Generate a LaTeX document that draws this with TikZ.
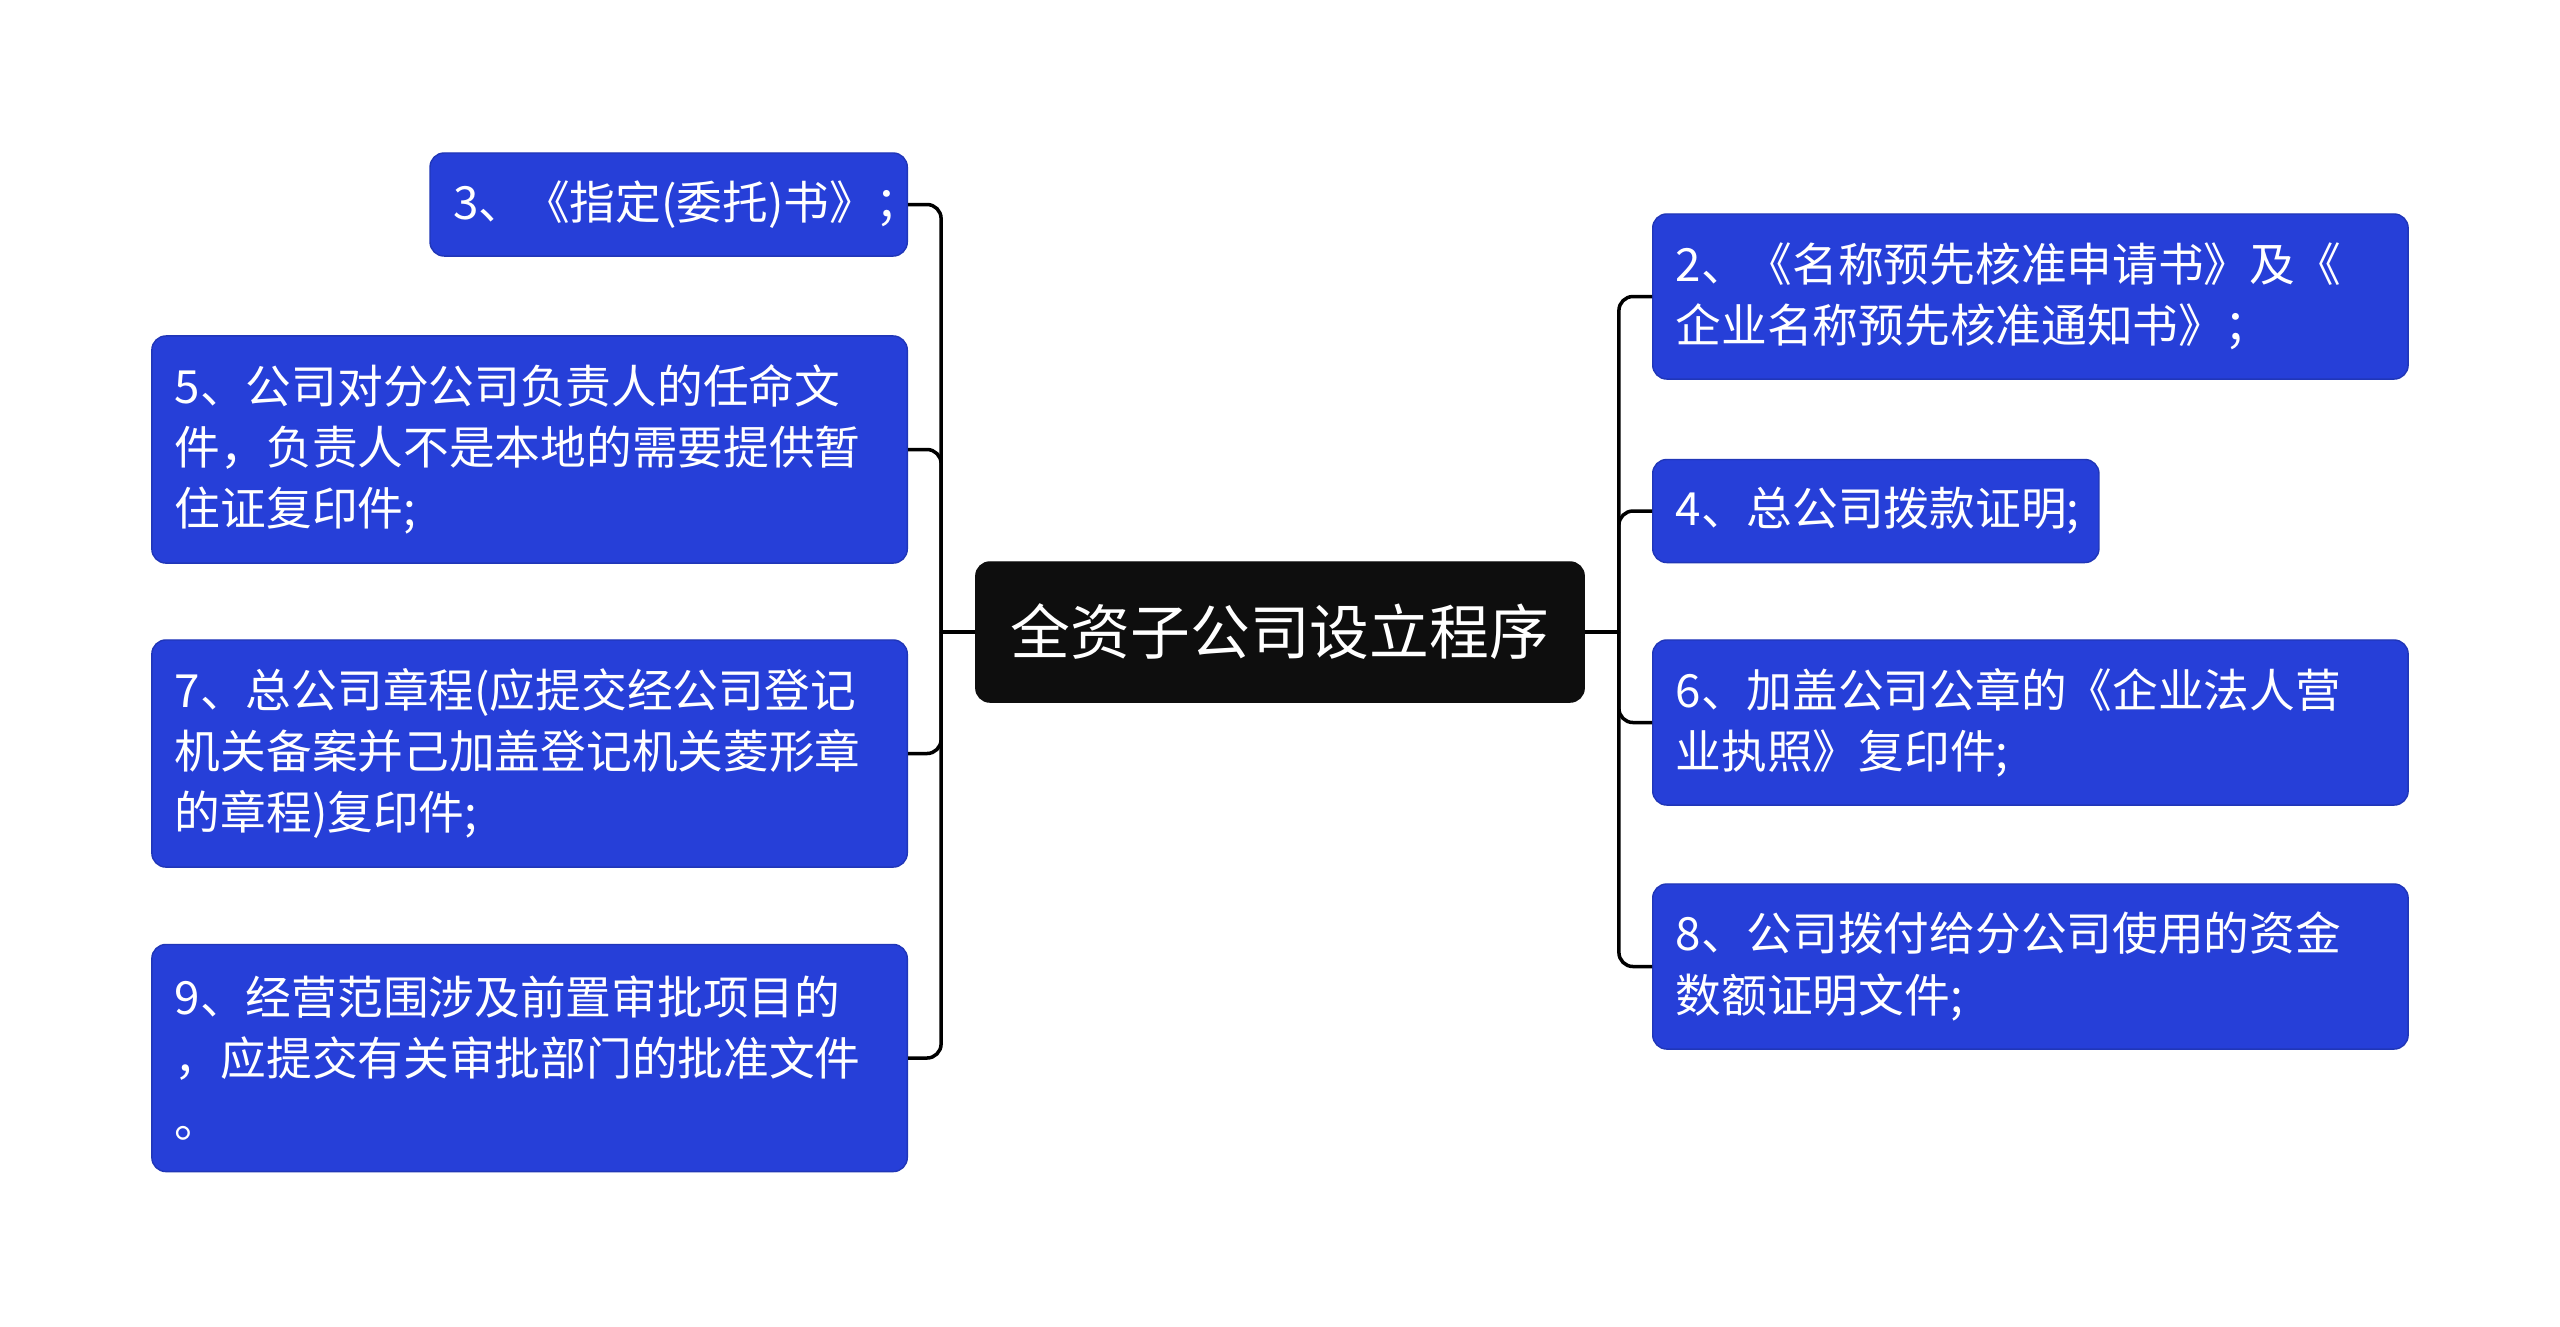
\documentclass[tikz,border=0pt]{standalone}
\usepackage{fontspec}
\setmainfont{Noto Sans CJK SC}
\usepackage{tikz}
\usetikzlibrary{positioning}
\definecolor{leafblue}{HTML}{263FD8}
\definecolor{rootblack}{HTML}{0E0E0E}

\begin{document}
\begin{tikzpicture}[
    x=0.01cm, y=-0.01cm,
    root/.style={fill=rootblack, draw=rootblack, rounded corners=4pt, text=white, minimum width=6.08cm, minimum height=1.40cm, font=\fontsize{17}{20}\selectfont},
    leaf/.style={fill=leafblue, draw=leafblue!85!black, line width=0.4pt, rounded corners=4pt, text=white, inner xsep=0.23cm, inner ysep=0.1cm, align=left, font=\fontsize{13}{17.4}\selectfont},
    wide/.style={leaf, text width=7.09cm},
    link/.style={line width=1pt, rounded corners=4pt},
]
\fill[white] (0,0) rectangle (2560,1326);
\useasboundingbox (0,0) rectangle (2560,1326);

\node[root] (root) at (1280,632) {全资子公司设立程序};

\node[leaf, text width=4.31cm, minimum height=1.03cm, anchor=east] (n3) at (908,204.5) {3、《指定(委托)书》；};
\node[wide, minimum height=2.27cm, anchor=east] (n5) at (908,449.5) {5、公司对分公司负责人的任命文\\件，负责人不是本地的需要提供暂\\住证复印件;};
\node[wide, minimum height=2.27cm, anchor=east] (n7) at (908,753.5) {7、总公司章程(应提交经公司登记\\机关备案并己加盖登记机关菱形章\\的章程)复印件;};
\node[wide, minimum height=2.27cm, anchor=east] (n9) at (908,1058) {9、经营范围涉及前置审批项目的\\，应提交有关审批部门的批准文件\\。};

\node[wide, minimum height=1.65cm, anchor=west] (n2) at (1652,296.5) {2、《名称预先核准申请书》及《\\企业名称预先核准通知书》；};
\node[leaf, text width=4.0cm, minimum height=1.03cm, anchor=west] (n4) at (1652,511) {4、总公司拨款证明;};
\node[wide, minimum height=1.65cm, anchor=west] (n6) at (1652,722.5) {6、加盖公司公章的《企业法人营\\业执照》复印件;};
\node[wide, minimum height=1.65cm, anchor=west] (n8) at (1652,966.5) {8、公司拨付给分公司使用的资金\\数额证明文件;};

\coordinate[left=0.34cm of root] (lj);
\coordinate[right=0.34cm of root] (rj);

\draw[link] (root) -- (lj);
\draw[link] (root) -- (rj);

\draw[link] (lj) |- (n3);
\draw[link] (lj) |- (n5);
\draw[link] (lj) |- (n7);
\draw[link] (lj) |- (n9);

\draw[link] (rj) |- (n2);
\draw[link] (rj) |- (n4);
\draw[link] (rj) |- (n6);
\draw[link] (rj) |- (n8);
\end{tikzpicture}
\end{document}
